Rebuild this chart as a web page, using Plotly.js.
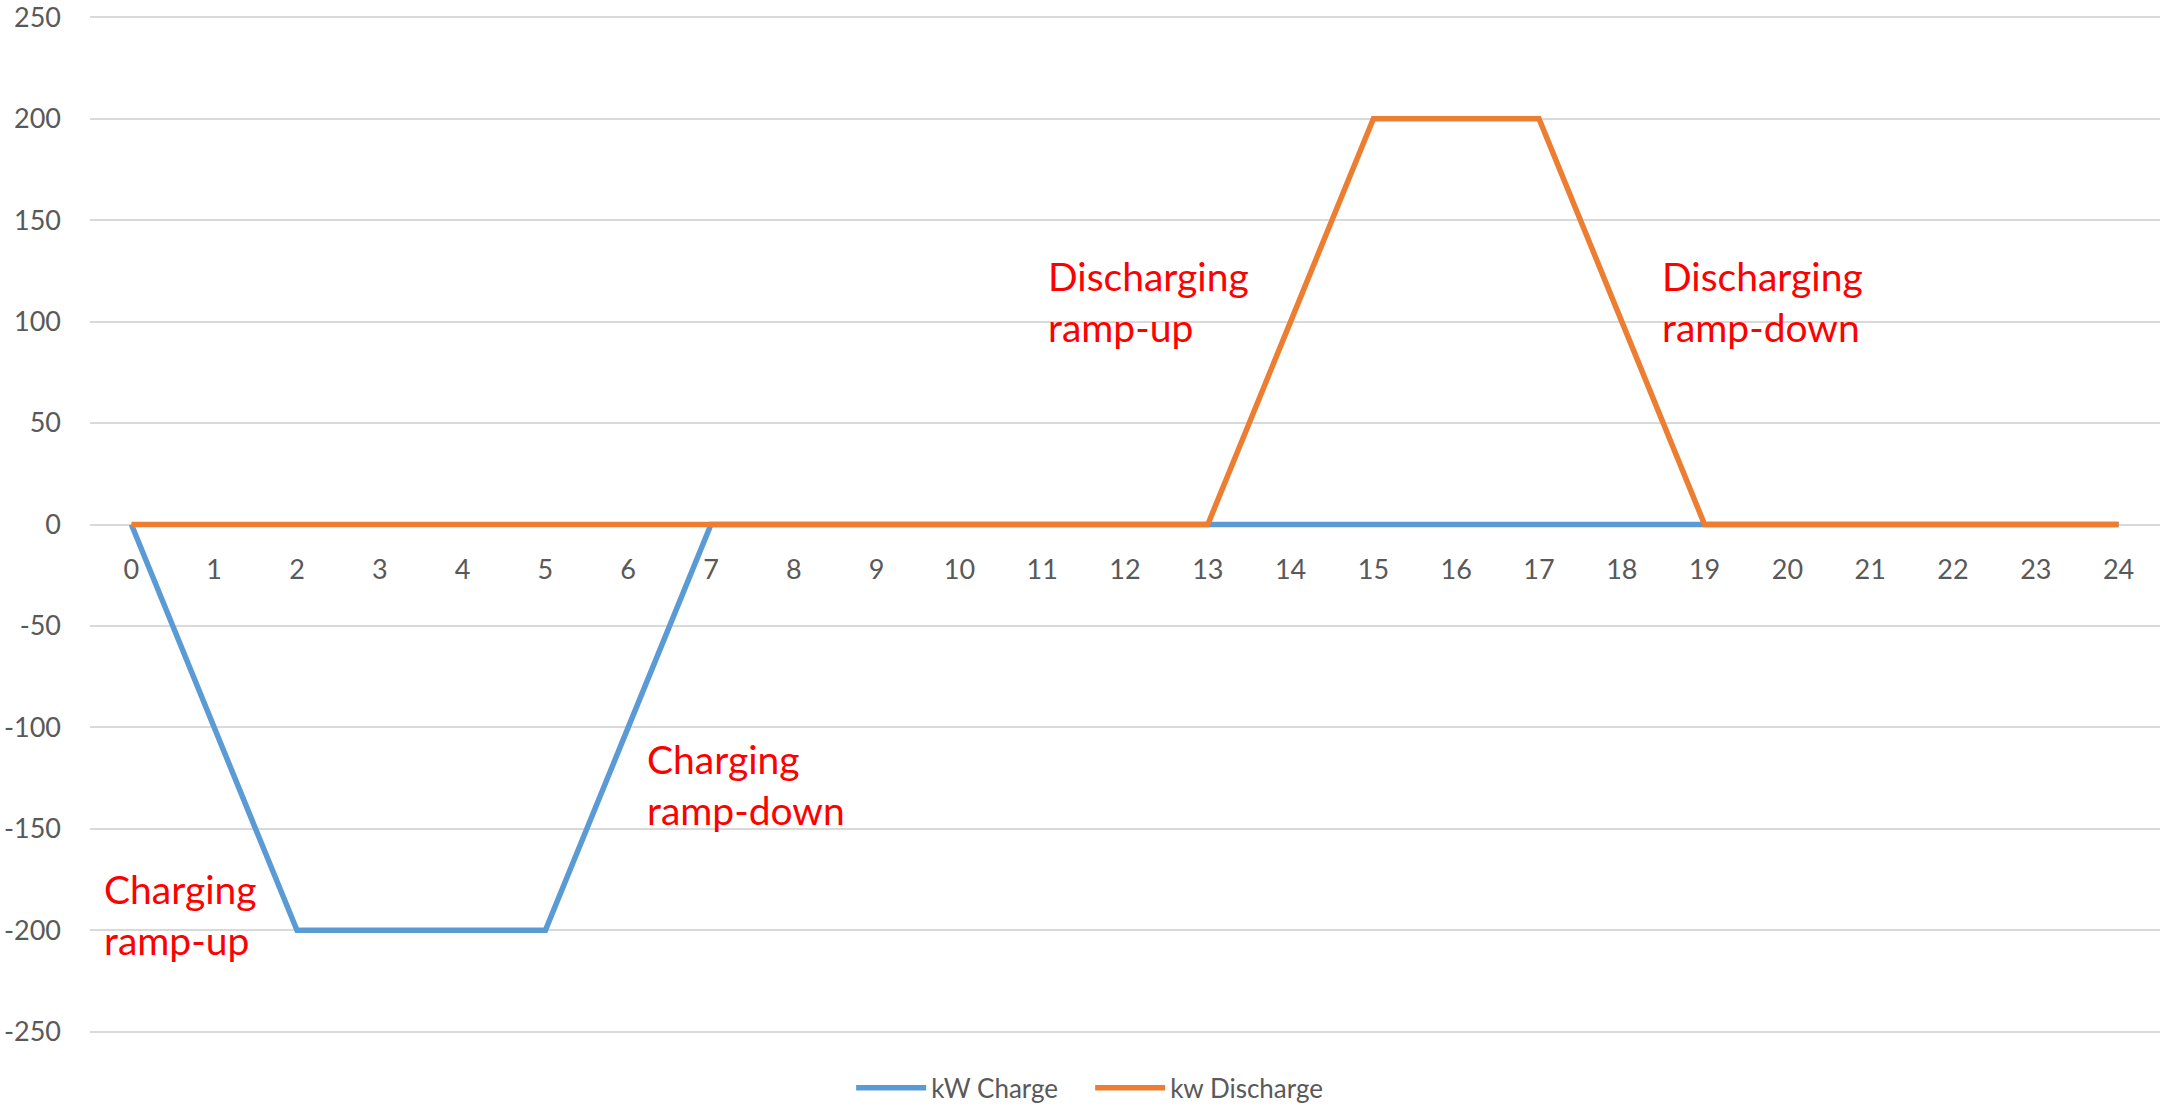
<!DOCTYPE html>
<html>
<head>
<meta charset="utf-8">
<script src="https://cdn.plot.ly/plotly-3.0.1.min.js"></script>
<style>
  html, body { margin: 0; padding: 0; background: #ffffff; }
  #chart { width: 2160px; height: 1108px; }
</style>
</head>
<body>
<div id="chart"></div>
<script>
// Hour of day
const hours = [0, 1, 2, 3, 4, 5, 6, 7, 8, 9, 10, 11, 12, 13, 14, 15, 16, 17, 18, 19, 20, 21, 22, 23, 24];

// Battery power profile (kW)
const kwCharge = [0, -100, -200, -200, -200, -200, -100, 0, 0, 0, 0, 0, 0, 0, 0, 0, 0, 0, 0, 0, 0, 0, 0, 0, 0];
const kwDischarge = [0, 0, 0, 0, 0, 0, 0, 0, 0, 0, 0, 0, 0, 0, 100, 200, 200, 200, 100, 0, 0, 0, 0, 0, 0];

// Value axis ticks
const yTickVals = [-250, -200, -150, -100, -50, 0, 50, 100, 150, 200, 250];
const yTickText = ['-250', '-200', '-150', '-100', '-50', '0', '50', '100', '150', '200', '250'];

// Phase labels
const phaseText = ['Charging<br>ramp-up', 'Charging<br>ramp-down', 'Discharging<br>ramp-up', 'Discharging<br>ramp-down'];
const phaseX = [-0.36, 6.2, 11.05, 18.46];
const phaseY = [-192, -128, 110, 110];

const FONT = 'Lato, "Open Sans", "DejaVu Sans", sans-serif';
const GRID = '#d9d9d9';
const TEXT = '#595959';

const traces = [
  {
    x: hours, y: kwCharge, name: 'kW Charge', type: 'scatter', mode: 'lines',
    line: { color: '#5b9bd5', width: 5.5 }
  },
  {
    x: hours, y: kwDischarge, name: 'kw Discharge', type: 'scatter', mode: 'lines',
    line: { color: '#ed7d31', width: 5.5 }
  }
];

const annotations = phaseText.map((t, i) => ({
  x: phaseX[i], y: phaseY[i], xref: 'x', yref: 'y',
  text: t, showarrow: false, xanchor: 'left', yanchor: 'middle', align: 'left',
  font: { family: FONT, size: 39, color: '#ff0000' }
}));

const layout = {
  width: 2160, height: 1108,
  margin: { l: 90, r: 0, t: 16, b: 75, autoexpand: false },
  paper_bgcolor: '#ffffff', plot_bgcolor: '#ffffff',
  font: { family: FONT, color: TEXT, size: 27 },
  showlegend: true,
  legend: {
    orientation: 'h', x: 0.3677, xanchor: 'left', y: -0.054, yanchor: 'middle',
    font: { family: FONT, size: 26, color: TEXT },
    itemwidth: 70, entrywidth: 154, entrywidthmode: 'pixels', traceorder: 'normal'
  },
  xaxis: {
    range: [-0.5, 24.5], tickvals: hours, ticktext: hours.map(String),
    anchor: 'free', position: 0.5,
    showgrid: false, zeroline: false, showline: false, ticks: '',
    ticklabelstandoff: 26,
    tickfont: { family: FONT, size: 27, color: TEXT }, fixedrange: true
  },
  yaxis: {
    range: [-250.6, 250.6], tickvals: yTickVals, ticktext: yTickText,
    showgrid: true, gridcolor: GRID, gridwidth: 2,
    zeroline: true, zerolinecolor: GRID, zerolinewidth: 2,
    showline: false, ticks: '', ticklabelstandoff: 28, ticklabeloverflow: 'allow',
    tickfont: { family: FONT, size: 27, color: TEXT }, fixedrange: true
  },
  annotations: annotations
};

Plotly.newPlot('chart', traces, layout, { displayModeBar: false, staticPlot: true });
</script>
</body>
</html>
